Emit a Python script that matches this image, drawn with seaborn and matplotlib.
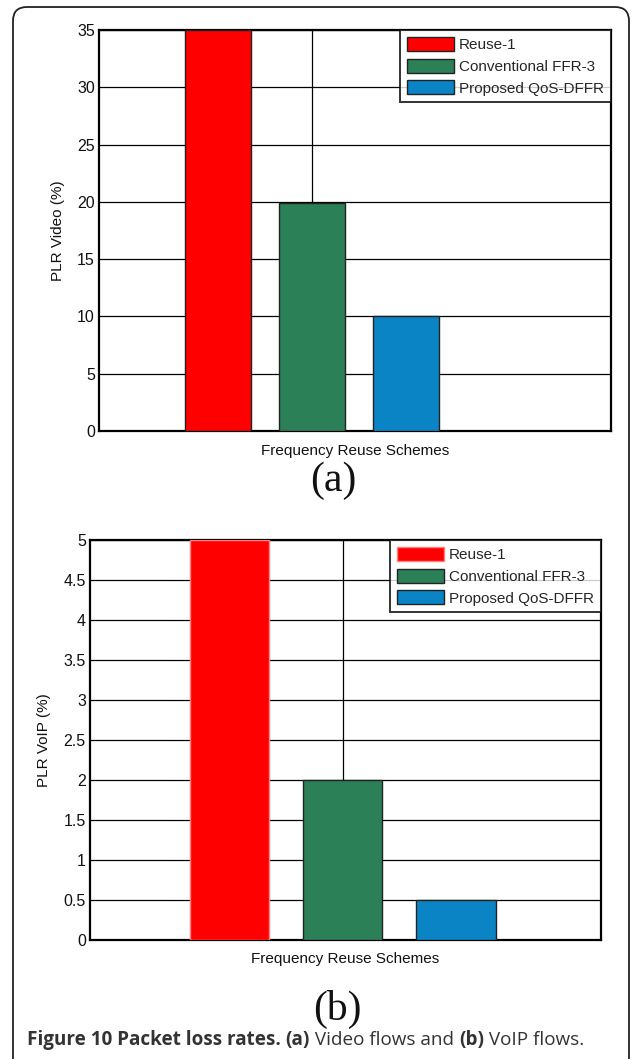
import matplotlib
matplotlib.use("Agg")
import matplotlib.pyplot as plt
import seaborn as sns
import numpy as np
import pandas as pd
from matplotlib.patches import FancyBboxPatch
from matplotlib.ticker import FormatStrFormatter

# ---- data ----
schemes = ["Reuse-1", "Conventional FFR-3", "Proposed QoS-DFFR"]
plr_video = [35, 19.9, 10]
plr_voip = [5, 2, 0.5]
colors = ["#FF0000", "#2B8057", "#0B84C6"]
video_ticks = [0, 5, 10, 15, 20, 25, 30, 35]
voip_ticks = [0, 0.5, 1, 1.5, 2, 2.5, 3, 3.5, 4, 4.5, 5]

sns.set_theme(style="white")
plt.rcParams["font.family"] = ["Liberation Sans", "DejaVu Sans"]

W, H = 632, 1059
fig = plt.figure(figsize=(W / 100, H / 100), dpi=100)

def fx(px):
    return px / W

def fy(py):
    return 1 - py / H

# axes rectangles (pixel measurements)
ax1 = fig.add_axes([fx(99), fy(431), fx(611) - fx(99), fy(30) - fy(431)])
ax2 = fig.add_axes([fx(90), fy(940), fx(601) - fx(90), fy(540) - fy(940)])

def draw(ax, values, ticks, ylabel, xlim, edge_red):
    df = pd.DataFrame({"scheme": schemes, "value": values})
    sns.barplot(data=df, x="scheme", y="value", hue="scheme", palette=colors,
                width=0.7, ax=ax, legend=False, zorder=3, linewidth=1.0,
                edgecolor="#222222", saturation=1)
    for i, patch in enumerate(ax.patches):
        if i == 0:
            patch.set_edgecolor(edge_red)
    ax.set_ylim(ticks[0], ticks[-1])
    ax.set_yticks(ticks)
    ax.yaxis.set_major_formatter(FormatStrFormatter("%g"))
    ax.set_xticks([1])
    ax.set_xticklabels([""])
    ax.set_xlim(*xlim)
    ax.grid(True, color="black", linewidth=0.9, zorder=0)
    ax.set_axisbelow(True)
    for s in ax.spines.values():
        s.set_visible(True)
        s.set_color("black")
        s.set_linewidth(1.6)
    ax.tick_params(axis="both", length=0, labelsize=11.5, pad=3, colors="#111111")
    ax.set_xlabel("Frequency Reuse Schemes", fontsize=11, labelpad=6, color="#111111")
    ax.set_ylabel(ylabel, fontsize=11, labelpad=9, color="#111111")
    handles = [plt.Rectangle((0, 0), 1, 1, facecolor=c, edgecolor="#222222", linewidth=1.0)
               for c in colors]
    handles[0].set_edgecolor(edge_red)
    leg = ax.legend(handles, schemes, loc="upper right", fontsize=11,
                    frameon=True, fancybox=False, borderaxespad=0.0,
                    handlelength=3.07, handleheight=1.05, handletextpad=0.35,
                    labelspacing=0.42, borderpad=0.45, edgecolor="black")
    leg.get_frame().set_linewidth(1.4)
    leg.set_zorder(10)

draw(ax1, plr_video, video_ticks, "PLR Video (%)", (-1.266, 4.18), "#222222")
draw(ax2, plr_voip, voip_ticks, "PLR VoIP (%)", (-1.229, 3.28), "#FF8080")

# panel labels
fig.text(fx(333), fy(481), "(a)", ha="center", va="center", fontsize=30,
         family="Liberation Serif", color="#111111")
fig.text(fx(337), fy(1009), "(b)", ha="center", va="center", fontsize=30,
         family="Liberation Serif", color="#111111")

# outer rounded frame (bottom edge beyond image)
frame = FancyBboxPatch((fx(13), -0.05), fx(629) - fx(13), fy(7) + 0.05,
                       boxstyle="round,pad=0,rounding_size=0.022",
                       transform=fig.transFigure, facecolor="none",
                       edgecolor="#222222", linewidth=1.3, mutation_aspect=W / H)
fig.patches.append(frame)

# caption, assembled piece by piece
pieces = [("Figure 10 Packet loss rates.", "bold"), (" ", "normal"),
          ("(a)", "bold"), (" Video flows and ", "normal"),
          ("(b)", "bold"), (" VoIP flows.", "normal")]
fig.canvas.draw()
renderer = fig.canvas.get_renderer()
x = fx(27)
for txt, wt in pieces:
    t = fig.text(x, fy(1040), txt, ha="left", va="center", fontsize=13.6,
                 family=["Open Sans", "DejaVu Sans"], weight=wt, color="#333333")
    bb = t.get_window_extent(renderer=renderer)
    x = bb.x1 / W

fig.savefig("out.png", dpi=100)
